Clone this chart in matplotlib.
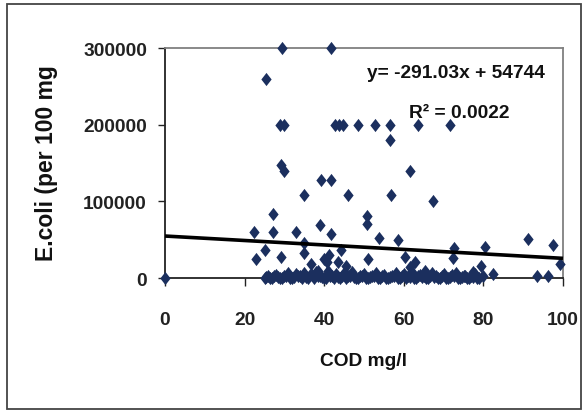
import matplotlib
matplotlib.use("Agg")
import matplotlib.pyplot as plt
from matplotlib.path import Path
from matplotlib.patches import Rectangle
import numpy as np

# ---- data ----
cod_high = [0.0, 29.3, 41.7, 25.3,
            29.0, 30.0, 42.7, 43.7, 44.7, 48.5, 52.8, 56.5, 63.6, 71.6,
            56.5, 29.1, 29.9, 39.1, 41.7, 61.6,
            34.9, 46.0, 56.7, 67.4,
            27.2, 50.8, 50.8, 39.0,
            22.4, 27.2, 32.8, 41.7,
            53.7, 58.6, 91.3, 97.5,
            34.9, 72.5, 80.5,
            25.2, 44.2, 34.9, 22.9, 29.2, 40.0, 41.2, 50.9, 60.3, 62.8, 61.6,
            72.3, 79.3, 99.2, 36.6, 40.6, 43.5, 45.6, 38.5, 65.3, 77.5, 82.5,
            93.4, 96.3]
ecoli_high = [0, 300000, 300000, 260000,
              200000, 200000, 200000, 200000, 200000, 200000, 200000, 200000, 200000, 200000,
              180000, 148000, 139000, 128000, 128000, 139000,
              108000, 108000, 108000, 100000,
              83000, 81000, 70000, 69000,
              60000, 60000, 60000, 58000,
              52000, 50000, 51000, 43000,
              46000, 39000, 40000,
              36000, 36000, 32000, 25000, 27000, 25000, 30000, 25000, 27000, 20500, 14000,
              26000, 16000, 18000, 18000, 20500, 20500, 16000, 9500, 9500, 7400, 5000,
              3000, 3000]

cod_low = [25.0, 26.0, 27.0, 28.0, 29.0, 30.0, 31.0, 32.0, 33.0, 34.0,
           35.0, 36.0, 37.0, 38.0, 39.0, 40.0, 41.0, 42.0, 43.0, 44.0,
           45.0, 46.0, 47.0, 48.0, 49.0, 50.0, 51.0, 52.0, 53.0, 54.0,
           55.0, 56.0, 57.0, 58.0, 59.0, 60.0, 61.0, 62.0, 63.0, 64.0,
           65.0, 66.0, 67.0, 68.0, 69.0, 70.0, 71.0, 72.0, 73.0, 74.0,
           75.0, 76.0, 77.0, 78.0, 79.0, 80.0,
           25.5, 26.5, 27.5, 28.5, 29.5, 30.5, 31.5, 32.5, 33.5, 34.5,
           35.5, 36.5, 37.5, 38.5, 39.5, 40.5, 41.5, 42.5, 43.5, 44.5,
           45.5, 46.5, 47.5, 48.5, 49.5, 50.5, 51.5, 52.5, 53.5, 54.5,
           55.5, 56.5, 57.5, 58.5, 59.5, 60.5, 61.5, 62.5, 63.5, 64.5,
           65.5, 66.5, 67.5, 68.5, 69.5, 70.5, 71.5, 72.5, 73.5, 74.5,
           75.5, 76.5, 77.5, 78.5]
ecoli_low = [0, 2000, 0, 4000, 0, 3000, 6000, 0, 5000, 2000,
             7000, 0, 4000, 8000, 3000, 0, 9000, 2000, 5000, 0,
             6000, 2000, 8000, 0, 3000, 5000, 0, 2000, 6000, 0,
             4000, 0, 3000, 7000, 0, 5000, 2000, 8000, 0, 4000,
             2000, 0, 6000, 3000, 0, 5000, 0, 4000, 7000, 0,
             3000, 0, 2000, 5000, 0, 3000,
             1000, 0, 3000, 1000, 0, 2000, 0, 1000, 3000, 0,
             1000, 4000, 0, 2000, 1000, 0, 3000, 0, 1000, 2000,
             0, 3000, 1000, 0, 2000, 0, 1000, 3000, 0, 2000,
             0, 1000, 2000, 0, 3000, 0, 1000, 0, 2000, 1000,
             0, 2000, 1000, 0, 2000, 0, 1000, 2000, 0, 1000,
             2000, 0, 1000, 0]

trend_slope = -291.03
trend_intercept = 54744
x_ticks = [0, 20, 40, 60, 80, 100]
y_ticks = [0, 100000, 200000, 300000]

fam = ["Liberation Sans", "DejaVu Sans"]
fs_main = 13.8

# ---- figure ----
fig = plt.figure(figsize=(5.86, 4.14), dpi=100)
fig.patch.set_facecolor("white")
fig.patches.append(Rectangle((7 / 586, 1 - 410 / 414), 574 / 586, 405 / 414,
                             transform=fig.transFigure, fill=False,
                             edgecolor="#444444", linewidth=1.3))

ax = fig.add_axes([165 / 586, 1 - 279 / 414, 398 / 586, 230 / 414])
ax.set_xlim(0, 100)
ax.set_ylim(0, 300000)

diamond = Path([(0, 1), (0.78, 0), (0, -1), (-0.78, 0), (0, 1)],
               [Path.MOVETO, Path.LINETO, Path.LINETO, Path.LINETO, Path.CLOSEPOLY])
navy = "#1b2f5e"
xs = np.array(cod_high + cod_low)
ys = np.array(ecoli_high + ecoli_low)
ax.plot(xs, ys, linestyle="none", marker=diamond, markersize=9.5,
        color=navy, markeredgewidth=0, clip_on=False, zorder=3)

xl = np.array([0, 100])
ax.plot(xl, trend_slope * xl + trend_intercept, color="black", linewidth=2.6,
        solid_capstyle="butt", zorder=4, clip_on=False)

tkw = dict(fontfamily=fam, fontweight="bold", fontsize=fs_main)
ax.set_xticks(x_ticks)
ax.set_yticks(y_ticks)
ax.set_xticklabels([str(v) for v in x_ticks], **tkw)
ax.set_yticklabels([str(v) for v in y_ticks], **tkw)
ax.tick_params(axis="x", direction="out", length=6, width=1.0, pad=18, colors="#222222")
ax.tick_params(axis="y", direction="out", length=5, width=1.0, pad=8, colors="#222222")

for s in ("left", "bottom"):
    ax.spines[s].set_color("#222222")
    ax.spines[s].set_linewidth(1.3)
for s in ("top", "right"):
    ax.spines[s].set_color("#808080")
    ax.spines[s].set_linewidth(1.3)

fig.text(47 / 586, 1 - 163 / 414, "E.coli (per 100 mg", rotation=90,
         ha="center", va="center", fontfamily=fam,
         fontweight="bold", fontsize=16.5, color="#111111")
fig.text(363 / 586, 1 - 362 / 414, "COD mg/l", ha="center", va="center",
         color="#111111", **tkw)

fig.text(456 / 586, 1 - 74 / 414, "y= -291.03x + 54744", ha="center", va="center",
         color="#111111", **tkw)
fig.text(459 / 586, 1 - 113 / 414, "R\u00b2 = 0.0022", ha="center", va="center",
         color="#111111", **tkw)

fig.savefig("out.png", dpi=100, facecolor="white")
